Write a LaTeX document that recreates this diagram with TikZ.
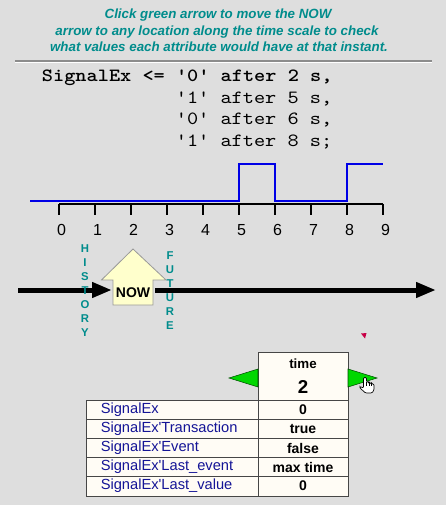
\documentclass[tikz,border=0pt]{standalone}
\usepackage{fontspec}
\newfontfamily\arial{Liberation Sans}
\newfontfamily\cour{lmmono10-regular.otf}[FakeStretch=1.14]
\newfontfamily\courb{lmmonolt10-bold.otf}[FakeStretch=1.14]
\usetikzlibrary{arrows.meta}
\definecolor{bg}{RGB}{222,222,222}
\definecolor{tealtxt}{RGB}{0,140,140}
\definecolor{wave}{RGB}{0,0,230}
\definecolor{nowfill}{RGB}{255,255,204}
\definecolor{ivory}{RGB}{255,252,245}
\definecolor{tableline}{RGB}{70,70,70}
\definecolor{navytxt}{RGB}{20,20,150}
\definecolor{greenbtn}{RGB}{0,215,0}
\definecolor{redmark}{RGB}{200,0,70}
\tikzset{
  titletxt/.style={font=\arial\fontsize{10}{12}\selectfont\bfseries\itshape, text=tealtxt, inner sep=0pt},
  codetxt/.style={font=\cour\fontsize{14}{16}\selectfont, anchor=base west, inner sep=0pt},
  codebold/.style={font=\courb\fontsize{14}{16}\selectfont, anchor=base west, inner sep=0pt},
  ticklbl/.style={font=\arial\fontsize{12}{14}\selectfont, inner sep=0pt},
  vletter/.style={font=\arial\fontsize{8.5}{10}\selectfont\bfseries, text=tealtxt, inner sep=0pt},
  rowname/.style={font=\arial\fontsize{11}{13}\selectfont, text=navytxt, anchor=west, inner sep=0pt},
  rowval/.style={font=\arial\fontsize{10.5}{12}\selectfont\bfseries, inner sep=0pt},
  bigarrow/.style={line width=3.75pt, -{Triangle[length=15pt,width=11pt]}},
  btn/.style={fill=greenbtn, draw=green!30!black, line width=0.4pt},
}
\begin{document}
\begin{tikzpicture}[x=0.75pt,y=-0.75pt]
\useasboundingbox (0,0) rectangle (446,505);
\fill[bg] (0,0) rectangle (446,505);
% title
\node[titletxt] (t1) at (218,15) {Click green arrow to move the NOW};
\node[titletxt] (t2) at (217,32) {arrow to any location along the time scale to check};
\node[titletxt] (t3) at (219,47) {what values each attribute would have at that instant.};
% separator
\draw[black!45, line width=0.9pt] (15,61) -- (432,61);
\draw[white, line width=0.75pt] (15,62.6) -- (432,62.6);
% code
\node[codebold] (c1) at (41.7,82) {SignalEx <= '0' after 2 s,};
\node[codetxt] (c2) at (175.6,103.5) {'1' after 5 s,};
\node[codetxt] (c3) at (175.6,125) {'0' after 6 s,};
\node[codetxt] (c4) at (175.6,146.5) {'1' after 8 s;};
% waveform
\draw[wave, line width=1.1pt] (30,201) -- (239,201) -- (239,164) -- (275,164) -- (275,201) -- (347,201) -- (347,164) -- (383,164);
% time axis
\draw[black, line width=0.8pt] (59,204) -- (383,204);
\foreach \i in {0,...,9} {
  \draw[black, line width=0.8pt] (59+36*\i,204) -- (59+36*\i,215.5);
  \node[ticklbl] (lbl\i) at (61.5+36*\i,230) {\i};
}
% NOW arrow
\filldraw[fill=nowfill, draw=black!40, line width=0.6pt] (133,249) -- (166,280) -- (153,280) -- (153,305) -- (113,305) -- (113,280) -- (101.5,280) -- cycle;
\node[font=\arial\fontsize{10.5}{12}\selectfont\bfseries, inner sep=0pt] (now) at (133,293) {NOW};
\coordinate (aStart) at (18,290);
\coordinate (aMid) at (112,290);
\coordinate (bStart) at (155,290);
\coordinate (bEnd) at (436,290);
\draw[bigarrow] (aStart) -- (aMid);
\draw[bigarrow] (bStart) -- (bEnd);
% HISTORY / FUTURE
\foreach \ch [count=\k from 0] in {H,I,S,T,O,R,Y}
  \node[vletter] (h\k) at (85,249+14*\k) {\ch};
\foreach \ch [count=\k from 0] in {F,U,T,U,R,E}
  \node[vletter] (f\k) at (170,256+14*\k) {\ch};
% small red mark
\fill[redmark] (361,333.5) -- (366.5,333) -- (365,338.5) -- cycle;
% header box
\filldraw[fill=ivory, draw=tableline, line width=0.6pt] (258,352) rectangle (348,400);
\node[font=\arial\fontsize{10}{12}\selectfont\bfseries, inner sep=0pt] (timelbl) at (303,364) {time};
\node[font=\arial\fontsize{14}{16}\selectfont\bfseries, inner sep=0pt] (timeval) at (303,387) {2};
% buttons
\filldraw[btn] (229,378) -- (258,369) -- (258,387) -- cycle;
\filldraw[btn] (348,369) -- (377,378) -- (348,387) -- cycle;
% hand cursor
\filldraw[fill=white, draw=black, line width=0.5pt, rounded corners=0.8pt]
  (360,386.5) -- (363.5,388) -- (363.5,377.5) -- (366.5,377.5) -- (366.5,382) -- (369,382) -- (369,383) -- (371.5,383) -- (371.5,384) -- (374,384) -- (374,390) -- (372,393) -- (365.5,393) -- (360,388) -- cycle;
\draw[black, line width=0.4pt] (366.5,382) -- (366.5,386) (369,383) -- (369,386) (371.5,384) -- (371.5,386);
% table
\filldraw[fill=ivory, draw=tableline, line width=0.6pt] (86,400) rectangle (348,496);
\draw[tableline, line width=0.6pt] (258,400) -- (258,496);
\foreach \yy in {419,438,457,476}
  \draw[tableline, line width=0.6pt] (86,\yy) -- (348,\yy);
\node[rowname] (n1) at (100.5,410) {SignalEx};
\node[rowname] (n2) at (100.5,429) {SignalEx'Transaction};
\node[rowname] (n3) at (100.5,448) {SignalEx'Event};
\node[rowname] (n4) at (100.5,467) {SignalEx'Last\_event};
\node[rowname] (n5) at (100.5,486) {SignalEx'Last\_value};
\node[rowval] (v1) at (303,410) {0};
\node[rowval] (v2) at (303,429) {true};
\node[rowval] (v3) at (303,448) {false};
\node[rowval] (v4) at (303,467) {max time};
\node[rowval] (v5) at (303,486) {0};
\end{tikzpicture}
\end{document}
